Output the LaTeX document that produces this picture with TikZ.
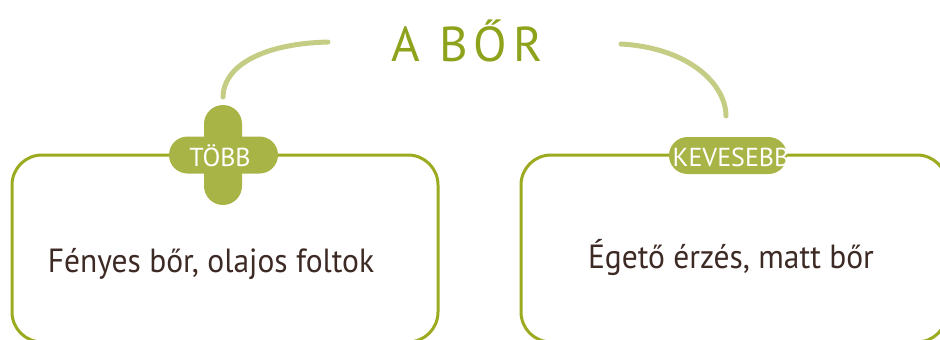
\documentclass[tikz,border=0pt]{standalone}
\usepackage{fontspec}
\setmainfont{PT Sans}
\newfontfamily\bodyfont[FakeStretch=0.94]{PT Sans}
\newfontfamily\titlefont[LetterSpace=12]{PT Sans}
\definecolor{boxline}{HTML}{9BAA1F}
\definecolor{tagfill}{HTML}{A9B446}
\definecolor{curvecol}{HTML}{C5CD85}
\definecolor{titlecol}{HTML}{8FA21C}
\definecolor{bodytext}{HTML}{3E2A24}
\tikzset{
  panel/.style={draw=boxline, line width=3pt, rounded corners=30pt, minimum width=426pt, minimum height=187pt, inner sep=0pt},
  bar/.style={fill=tagfill, inner sep=0pt},
  tagtext/.style={text=white, font=\fontsize{26}{28}\selectfont, inner sep=0pt},
  bodylabel/.style={text=bodytext, font=\bodyfont\fontsize{33.5}{36}\selectfont, inner sep=0pt, anchor=base},
  link/.style={draw=curvecol, line width=5pt, line cap=round},
}
\begin{document}
\begin{tikzpicture}[x=1pt,y=-1pt]
\useasboundingbox (0,0) rectangle (940,340);
\clip (0,0) rectangle (940,340);
\node[panel] (lbox) at (225,248.5) {};
\node[panel] (rbox) at (734,248.5) {};
% plus sign
\node[bar, minimum width=38pt, minimum height=100pt, rounded corners=19pt] (plusv) at (223,155) {};
\node[bar, minimum width=109pt, minimum height=37pt, rounded corners=18.5pt] (plush) at (223.5,155) {};
\node[tagtext] (tobb) at (220,155.5) {TÖBB};
% pill
\node[bar, minimum width=118pt, minimum height=37pt, rounded corners=18.5pt] (pill) at (728,155.5) {};
\begin{scope}
\clip[rounded corners=18.5pt] (pill.south west) rectangle (pill.north east);
\node[tagtext] (keves) at (731,157) {KEVESEBB};
\end{scope}
% title
\node[text=titlecol, font=\titlefont\fontsize{49}{51}\selectfont, inner sep=0pt, anchor=base] (title) at (467,61) {A BŐR};
% curves
\coordinate (l1) at (328,42);
\coordinate (l2) at (223,97);
\coordinate (r1) at (621,44);
\coordinate (r2) at (726,116);
\draw[link] (l1) .. controls (255,44) and (223,70) .. (l2);
\draw[link] (r1) .. controls (690,48) and (726,85) .. (r2);
% body text
\node[bodylabel] (ltext) at (211,272) {Fényes bőr, olajos foltok};
\node[bodylabel] (rtext) at (731,268) {Égető érzés, matt bőr};
\end{tikzpicture}
\end{document}
